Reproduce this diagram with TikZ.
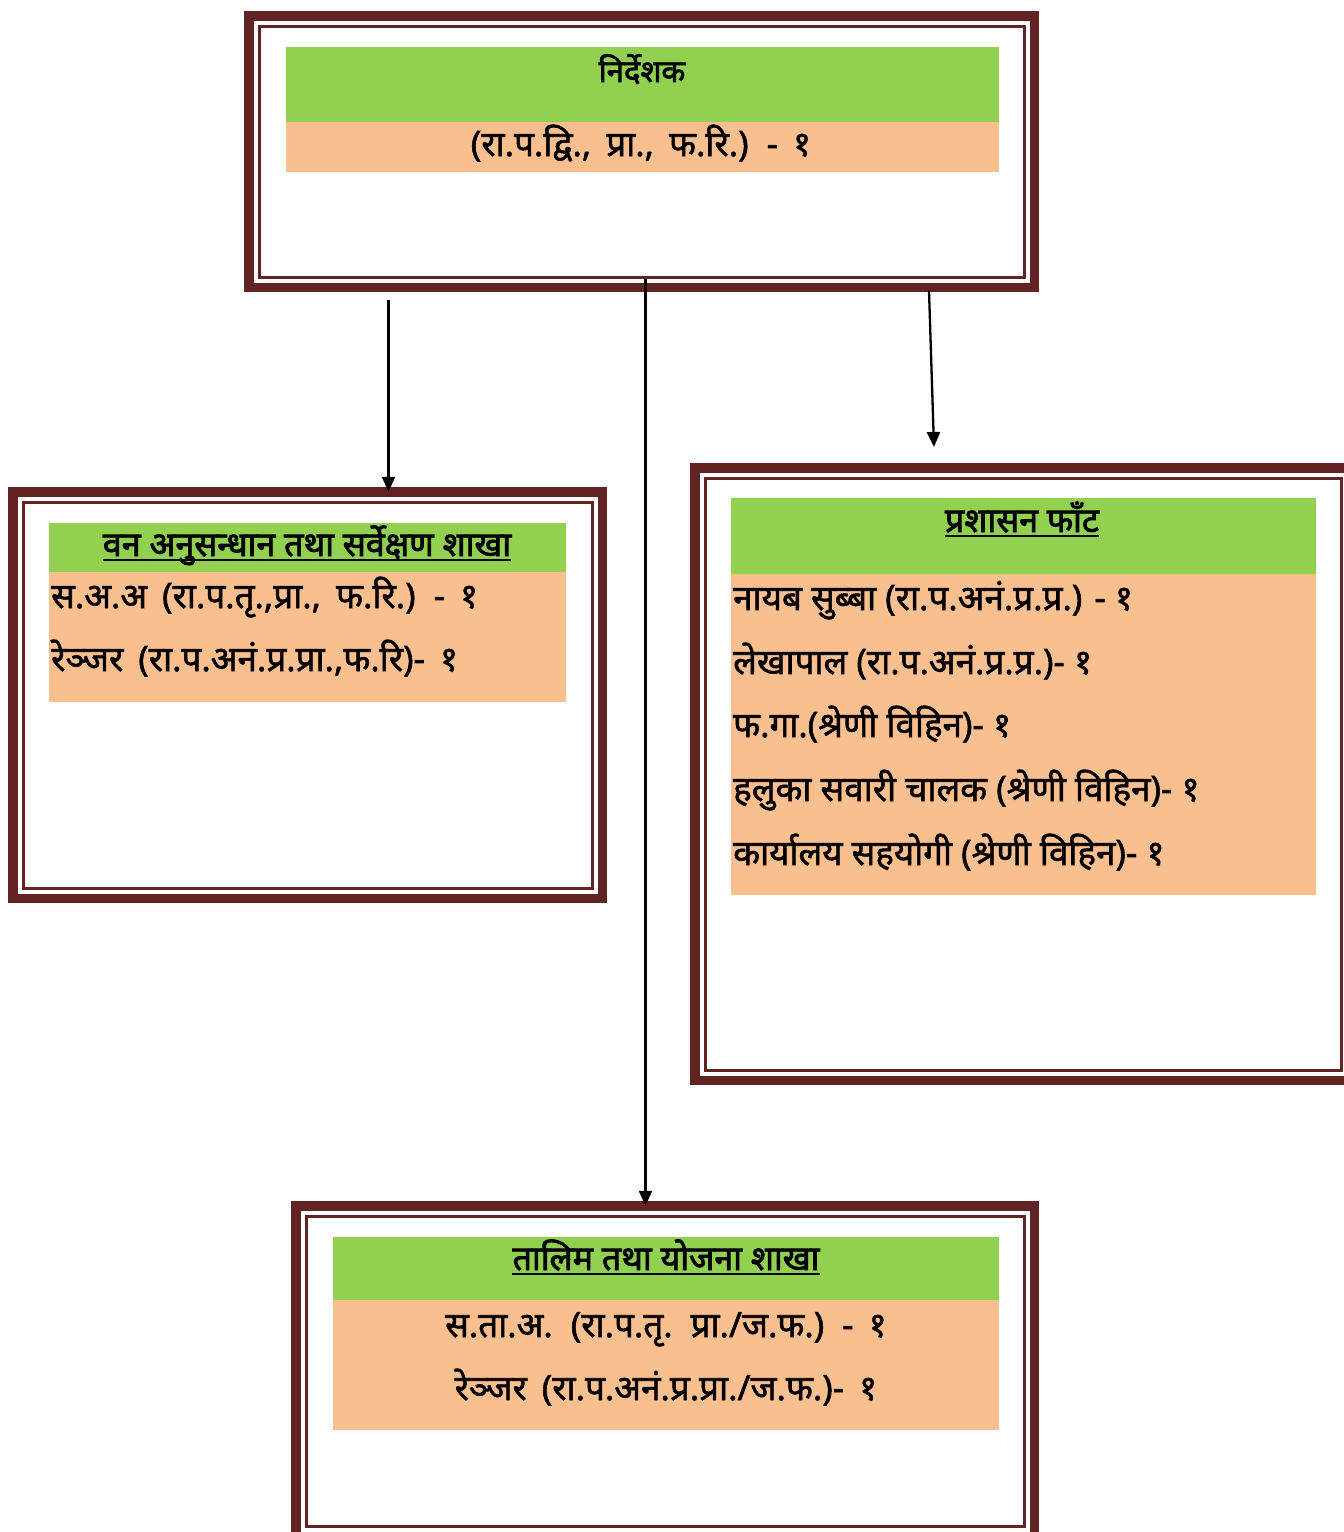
\documentclass[tikz,border=0pt]{standalone}
\usepackage{fontspec}
\usepackage{graphicx}
\usetikzlibrary{arrows.meta,calc}
\newfontfamily\dev[Script=Devanagari,FakeBold=1.6]{Noto Sans}
\newfontfamily\devhead[Script=Devanagari,FakeBold=2.6]{Noto Sans}
\definecolor{maroon}{HTML}{622423}
\definecolor{bandgreen}{HTML}{92D050}
\definecolor{bandpeach}{HTML}{FABF8F}
\tikzset{
  framebox/.style={draw=maroon, line width=9.5pt, inner sep=0pt, outer sep=0pt},
  thinframe/.style={draw=maroon, line width=3pt},
  greenband/.style={fill=bandgreen, inner sep=0pt, outer sep=0pt, anchor=north west},
  peachband/.style={fill=bandpeach, inner sep=0pt, outer sep=0pt, anchor=north west},
  titletext/.style={font=\devhead\fontsize{34}{40}\selectfont, inner sep=0pt, anchor=base},
  bodytext/.style={font=\dev\fontsize{35}{40}\selectfont, inner sep=0pt},
  widesp/.style={execute at begin node={\spaceskip=15pt\relax}},
  uline/.style={draw=black, line width=1.8pt},
  arr/.style={draw=black, line width=2.3pt, -{Triangle[width=13pt,length=15pt]}}
}
% \orgframe{name}{x1}{y1}{x2}{y2}: outer edges of the thick frame
\newcommand\orgframe[5]{%
  \pgfmathsetmacro\ofw{#4-#2-9.5}%
  \pgfmathsetmacro\ofh{#5-#3-9.5}%
  \pgfmathsetmacro\ofx{(#2+#4)/2}%
  \pgfmathsetmacro\ofy{(#3+#5)/2}%
  \node[framebox, minimum width=\ofw pt, minimum height=\ofh pt] (#1) at (\ofx,\ofy) {};
  \draw[thinframe] ($(#1.north west)+(10.25,10.25)$) rectangle ($(#1.south east)+(-10.25,-10.25)$);
}
\newcommand\ulnode[1]{%
  \draw[uline] ($(#1.base west)+(0,4)$) -- ($(#1.base east)+(0,4)$);
}
\begin{document}
\begin{tikzpicture}[x=1pt,y=-1pt]
\useasboundingbox (0,0) rectangle (1344,1532);
\fill[white] (0,0) rectangle (1344,1532);

% frames
\orgframe{top}{244}{11}{1039}{292}
\orgframe{lbox}{8}{487}{607}{903}
\orgframe{rbox}{690}{463}{1356}{1085}
\orgframe{bbox}{291}{1201}{1039}{1541}

% bands
\node[greenband, minimum width=713pt, minimum height=75pt] (tg) at (286,47) {};
\node[peachband, minimum width=713pt, minimum height=50pt] (tp) at (286,122) {};
\node[greenband, minimum width=517pt, minimum height=49pt] (lg) at (49,523) {};
\node[peachband, minimum width=517pt, minimum height=130pt] (lp) at (49,572) {};
\node[greenband, minimum width=585pt, minimum height=76pt] (rg) at (731,498) {};
\node[peachband, minimum width=585pt, minimum height=321pt] (rp) at (731,574) {};
\node[greenband, minimum width=666pt, minimum height=63pt] (bg) at (333,1237) {};
\node[peachband, minimum width=666pt, minimum height=130pt] (bp) at (333,1300) {};

% texts
\node[titletext, font=\devhead\fontsize{31}{36}\selectfont] (t0) at (642,82) {निर्देशक};
\node[bodytext, widesp, anchor=base] (t1) at (641,156) {(रा.प.द्वि., प्रा., फ.रि.) - १};

\node[titletext] (l0) at (307,556) {वन अनुसन्धान तथा सर्वेक्षण शाखा};
\ulnode{l0}
\node[bodytext, widesp, anchor=base west] (l1) at (51,608) {स.अ.अ (रा.प.तृ.,प्रा., फ.रि.) - १};
\node[bodytext, widesp, anchor=base west] (l2) at (51,671) {रेञ्जर (रा.प.अनं.प्र.प्रा.,फ.रि)- १};

\node[titletext] (r0) at (1022,532) {प्रशासन फाँट};
\ulnode{r0}
\node[bodytext, anchor=base west] (r1) at (733,610) {नायब सुब्बा (रा.प.अनं.प्र.प्र.) - १};
\node[bodytext, anchor=base west] (r2) at (733,674) {लेखापाल (रा.प.अनं.प्र.प्र.)- १};
\node[bodytext, anchor=base west] (r3) at (733,737) {फ.गा.(श्रेणी विहिन)- १};
\node[bodytext, anchor=base west] (r4) at (733,801) {हलुका सवारी चालक (श्रेणी विहिन)- १};
\node[bodytext, anchor=base west] (r5) at (733,865) {कार्यालय सहयोगी (श्रेणी विहिन)- १};

\node[titletext] (b0) at (666,1270) {तालिम तथा योजना शाखा};
\ulnode{b0}
\node[bodytext, widesp, anchor=base] (b1) at (666,1337) {स.ता.अ. (रा.प.तृ. प्रा./ज.फ.) - १};
\node[bodytext, widesp, anchor=base] (b2) at (666,1400) {रेञ्जर (रा.प.अनं.प्र.प्रा./ज.फ.)- १};

% connectors
\coordinate (a1s) at (388.5,300);
\coordinate (a2s) at (645.5,279);
\coordinate (a3s) at (929,291);
\coordinate (a3e) at (934,447);
\draw[arr] (a1s) -- (a1s |- lbox.north);
\draw[arr] (a2s) -- (a2s |- bbox.north);
\draw[arr] (a3s) -- (a3e);
\end{tikzpicture}
\end{document}
